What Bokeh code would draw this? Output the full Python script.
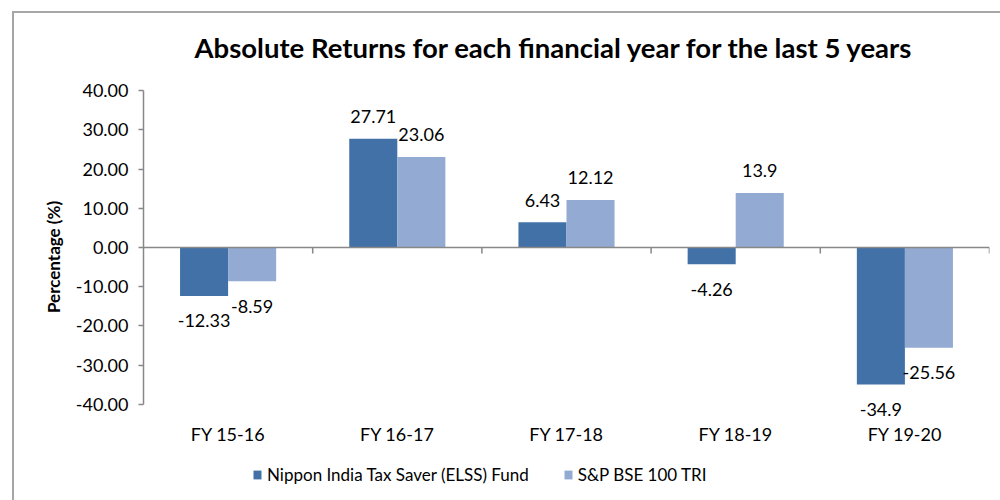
from bokeh.plotting import figure
from bokeh.models import (ColumnDataSource, Span, Legend, LegendItem, Label,
                          FixedTicker, NumeralTickFormatter)
from bokeh.core.properties import value
from bokeh.embed import file_html
from bokeh.resources import INLINE

categories = ["FY 15-16", "FY 16-17", "FY 17-18", "FY 18-19", "FY 19-20"]
fund = [-12.33, 27.71, 6.43, -4.26, -34.9]
index = [-8.59, 23.06, 12.12, 13.9, -25.56]
series_names = ["Nippon India Tax Saver (ELSS) Fund", "S&P BSE 100 TRI"]
y_ticks = [-40, -30, -20, -10, 0, 10, 20, 30, 40]
title_text = "Absolute Returns for each financial year for the last 5 years"

DARK = "#4171A7"
LIGHT = "#93AAD2"
AXIS = "#888888"
FONT = "Lato"

xs = list(range(len(categories)))
bw = 0.284

def src(vals, shift):
    return ColumnDataSource(dict(
        x=[i + shift for i in xs],
        top=vals,
        lbl=[str(v) for v in vals],
        yoff=[-22 if v >= 0 else 25 for v in vals],
    ))

s1 = src(fund, -bw / 2)
s2 = src(index, bw / 2)
cat_src = ColumnDataSource(dict(x=xs, y=[0] * len(xs), lbl=categories))

# plot area: 3.925 px per unit; extra room above for the title and below for labels/legend
p = figure(frame_width=846, frame_height=487,
           x_range=(-0.5, len(categories) - 0.5), y_range=(-64.46, 59.62),
           output_backend="svg", toolbar_location=None,
           min_border_left=129, min_border_right=11,
           min_border_top=0, min_border_bottom=0,
           background_fill_color="white", border_fill_color="white")
p.margin = (11, 0, 0, 12)
p.styles = {"border-top": "2px solid #a6a6a6", "border-left": "2px solid #a6a6a6"}
p.outline_line_color = None
p.grid.visible = False
p.xaxis.visible = False

p.add_layout(Label(x=411, y=453, x_units="screen", y_units="screen",
                   text=title_text, text_align="center", text_baseline="middle",
                   text_font=FONT, text_font_size="27.5px",
                   text_font_style="bold", text_color="#000000"))

r1 = p.vbar(x="x", top="top", bottom=0, width=bw, source=s1,
            fill_color=DARK, line_color=None)
r2 = p.vbar(x="x", top="top", bottom=0, width=bw, source=s2,
            fill_color=LIGHT, line_color=None)

for s in (s1, s2):
    p.text(x="x", y="top", text="lbl", y_offset="yoff", source=s,
           text_align="center", text_baseline="middle",
           text_font=value(FONT), text_font_size="18px", text_color="#000000")

# category labels under the plot
p.text(x="x", y="y", text="lbl", y_offset=186, source=cat_src,
       text_align="center", text_baseline="middle",
       text_font=value(FONT), text_font_size="18px", text_color="#000000")

# zero line with category boundary ticks
p.add_layout(Span(location=0, dimension="width", line_color=AXIS, line_width=1.5))
bounds = [i + 0.5 for i in xs]
p.segment(x0=bounds, y0=[0] * len(bounds), x1=bounds, y1=[-1.5] * len(bounds),
          line_color=AXIS, line_width=1.5)

# y axis
ya = p.yaxis[0]
ya.ticker = FixedTicker(ticks=y_ticks)
ya.bounds = (y_ticks[0], y_ticks[-1])
ya.formatter = NumeralTickFormatter(format="0.00")
ya.axis_line_color = AXIS
ya.axis_line_width = 1.5
ya.major_tick_line_color = AXIS
ya.major_tick_line_width = 1.5
ya.major_tick_out = 5
ya.major_tick_in = 0
ya.minor_tick_line_color = None
ya.major_label_text_font = FONT
ya.major_label_text_font_size = "18px"
ya.major_label_text_color = "#000000"
ya.major_label_standoff = 10
ya.axis_label = "Percentage (%)"
ya.axis_label_text_font = FONT
ya.axis_label_text_font_size = "17px"
ya.axis_label_text_font_style = "bold"
ya.axis_label_text_color = "#000000"
ya.axis_label_standoff = 9

legend = Legend(items=[LegendItem(label=series_names[0], renderers=[r1]),
                       LegendItem(label=series_names[1], renderers=[r2])],
                orientation="horizontal", location=(109, 15),
                padding=0, margin=0, spacing=34, label_standoff=5,
                glyph_width=10, glyph_height=11,
                border_line_color=None, background_fill_alpha=0,
                label_text_font=FONT, label_text_font_size="17px",
                label_text_color="#000000")
p.add_layout(legend, "center")

open("out.html", "w").write(file_html(p, INLINE))
